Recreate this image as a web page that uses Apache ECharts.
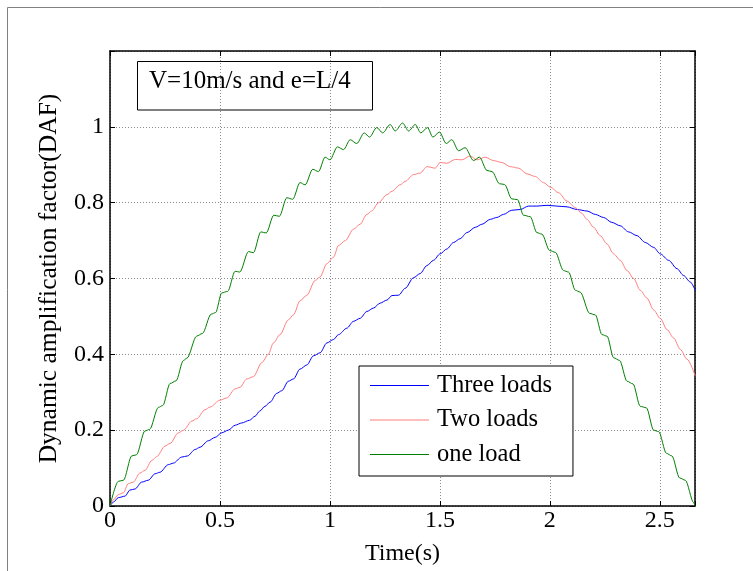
<!DOCTYPE html>
<html>
<head>
<meta charset="utf-8">
<script src="https://cdn.jsdelivr.net/npm/echarts@6/dist/echarts.min.js"></script>
<style>
html,body{margin:0;padding:0;background:#fff;}
#chart{width:753px;height:571px;}
</style>
</head>
<body>
<div id="chart"></div>
<script>
// ---- data ----
const xTicks = [0, 0.5, 1, 1.5, 2, 2.5];
const yTicks = [0, 0.2, 0.4, 0.6, 0.8, 1];
const seriesNames = ['Three loads', 'Two loads', 'one load'];

const threeT = [0, 0.015, 0.038, 0.068, 0.091, 0.114, 0.144, 0.174, 0.205, 0.227, 0.265, 0.288, 0.326, 0.352, 0.387, 0.409, 0.447, 0.478, 0.508, 0.538, 0.569, 0.599, 0.634, 0.66, 0.68, 0.705, 0.728, 0.758, 0.781, 0.811, 0.834, 0.864, 0.895, 0.925, 0.955, 0.986, 1.016, 1.039, 1.077, 1.107, 1.137, 1.168, 1.198, 1.228, 1.259, 1.282, 1.312, 1.342, 1.38, 1.41, 1.441, 1.471, 1.501, 1.532, 1.562, 1.592, 1.623, 1.661, 1.691, 1.729, 1.759, 1.789, 1.827, 1.865, 1.903, 1.941, 1.987, 2.032, 2.078, 2.123, 2.169, 2.207, 2.244, 2.282, 2.32, 2.358, 2.396, 2.434, 2.472, 2.502, 2.54, 2.578, 2.608, 2.638, 2.661];
const threeV = [0, 0.01, 0.022, 0.026, 0.042, 0.045, 0.063, 0.068, 0.085, 0.089, 0.109, 0.113, 0.129, 0.132, 0.149, 0.155, 0.172, 0.181, 0.193, 0.2, 0.213, 0.219, 0.226, 0.237, 0.25, 0.263, 0.274, 0.297, 0.304, 0.329, 0.335, 0.361, 0.372, 0.396, 0.404, 0.43, 0.439, 0.452, 0.469, 0.487, 0.495, 0.513, 0.522, 0.535, 0.543, 0.555, 0.556, 0.574, 0.602, 0.613, 0.634, 0.648, 0.665, 0.678, 0.695, 0.705, 0.721, 0.735, 0.743, 0.756, 0.761, 0.769, 0.78, 0.782, 0.791, 0.791, 0.793, 0.791, 0.789, 0.782, 0.778, 0.769, 0.761, 0.748, 0.739, 0.723, 0.713, 0.695, 0.682, 0.665, 0.648, 0.626, 0.608, 0.591, 0.569];

const twoT = [0, 0.015, 0.038, 0.061, 0.083, 0.106, 0.136, 0.159, 0.19, 0.212, 0.25, 0.273, 0.311, 0.334, 0.372, 0.394, 0.432, 0.455, 0.5, 0.531, 0.569, 0.591, 0.622, 0.652, 0.69, 0.72, 0.743, 0.773, 0.811, 0.834, 0.864, 0.895, 0.933, 0.955, 0.986, 1.016, 1.039, 1.07, 1.107, 1.137, 1.168, 1.19, 1.221, 1.259, 1.282, 1.319, 1.342, 1.38, 1.41, 1.441, 1.479, 1.501, 1.532, 1.57, 1.6, 1.638, 1.668, 1.706, 1.744, 1.782, 1.82, 1.858, 1.896, 1.934, 1.971, 2.002, 2.04, 2.078, 2.116, 2.145, 2.169, 2.199, 2.229, 2.26, 2.29, 2.32, 2.351, 2.381, 2.411, 2.442, 2.472, 2.502, 2.533, 2.563, 2.593, 2.624, 2.661];
const twoV = [0, 0.016, 0.03, 0.035, 0.059, 0.063, 0.087, 0.094, 0.12, 0.13, 0.158, 0.165, 0.193, 0.2, 0.224, 0.23, 0.254, 0.261, 0.279, 0.285, 0.309, 0.313, 0.335, 0.341, 0.378, 0.4, 0.43, 0.452, 0.491, 0.504, 0.541, 0.556, 0.595, 0.604, 0.639, 0.656, 0.687, 0.7, 0.73, 0.743, 0.769, 0.778, 0.8, 0.821, 0.83, 0.847, 0.856, 0.874, 0.878, 0.895, 0.891, 0.906, 0.904, 0.914, 0.913, 0.923, 0.913, 0.92, 0.911, 0.906, 0.895, 0.891, 0.876, 0.869, 0.853, 0.841, 0.826, 0.804, 0.787, 0.772, 0.756, 0.735, 0.713, 0.691, 0.665, 0.648, 0.621, 0.6, 0.569, 0.548, 0.517, 0.495, 0.465, 0.443, 0.413, 0.387, 0.343];

const oneT = [0, 0.038, 0.061, 0.099, 0.12, 0.159, 0.18, 0.22, 0.24, 0.273, 0.3, 0.334, 0.35, 0.394, 0.42, 0.46, 0.48, 0.508, 0.535, 0.569, 0.59, 0.63, 0.652, 0.686, 0.71, 0.745, 0.77, 0.804, 0.831, 0.864, 0.887, 0.922, 0.948, 0.978, 1.0, 1.034, 1.062, 1.092, 1.122, 1.156, 1.18, 1.213, 1.24, 1.274, 1.297, 1.33, 1.358, 1.388, 1.413, 1.444, 1.468, 1.498, 1.529, 1.554, 1.585, 1.615, 1.653, 1.68, 1.714, 1.737, 1.771, 1.794, 1.827, 1.853, 1.88, 1.911, 1.941, 1.964, 1.999, 2.025, 2.062, 2.085, 2.116, 2.138, 2.181, 2.207, 2.237, 2.26, 2.29, 2.317, 2.351, 2.378, 2.411, 2.439, 2.472, 2.495, 2.53, 2.555, 2.59, 2.616, 2.654, 2.66];
const oneV = [0, 0.065, 0.068, 0.132, 0.135, 0.198, 0.202, 0.26, 0.265, 0.323, 0.33, 0.384, 0.39, 0.448, 0.455, 0.506, 0.51, 0.562, 0.566, 0.619, 0.617, 0.671, 0.668, 0.723, 0.72, 0.767, 0.764, 0.813, 0.809, 0.853, 0.847, 0.888, 0.882, 0.92, 0.913, 0.947, 0.94, 0.966, 0.956, 0.984, 0.973, 0.998, 0.984, 1.006, 0.989, 1.01, 0.989, 1.006, 0.984, 0.998, 0.973, 0.986, 0.956, 0.966, 0.937, 0.945, 0.911, 0.92, 0.885, 0.882, 0.85, 0.848, 0.81, 0.808, 0.767, 0.763, 0.721, 0.717, 0.674, 0.669, 0.621, 0.617, 0.569, 0.564, 0.508, 0.504, 0.452, 0.448, 0.391, 0.384, 0.329, 0.322, 0.263, 0.259, 0.2, 0.196, 0.139, 0.132, 0.074, 0.068, 0.009, 0];

const xMax = 2.66;
const yMax = 1.2;

// ---- build ----
function pairs(t, v) { return t.map((x, i) => [x, v[i]]); }
const FONT = '"Liberation Serif", "Times New Roman", serif';
const chart = echarts.init(document.getElementById('chart'), null, {renderer: 'canvas'});

const gridLine = {show: true, lineStyle: {color: '#8c8c8c', type: [1, 2], width: 1}};
const axisLine = {show: true, onZero: false, lineStyle: {color: '#000', width: 1.5}};
const tickIn = {show: true, inside: true, length: 5, lineStyle: {color: '#000', width: 1}};
const onTick = (list) => (val) => list.some(t => Math.abs(t - val) < 1e-6) ? String(val) : '';

const option = {
  animation: false,
  backgroundColor: '#fff',
  grid: {left: 110, right: 58, top: 51, bottom: 61, containLabel: false},
  xAxis: [{
    type: 'value', min: 0, max: xMax, interval: 0.5, position: 'bottom',
    axisLine: axisLine, axisTick: tickIn, splitLine: gridLine,
    axisLabel: {fontFamily: FONT, fontSize: 24, color: '#000', margin: 3, formatter: onTick(xTicks)},
    name: 'Time(s)', nameLocation: 'middle', nameGap: 36,
    nameTextStyle: {fontFamily: FONT, fontSize: 24, color: '#000'}
  }, {
    type: 'value', min: 0, max: xMax, interval: 0.5, position: 'top',
    axisLine: axisLine, axisTick: tickIn, splitLine: {show: false}, axisLabel: {show: false}
  }],
  yAxis: [{
    type: 'value', min: 0, max: yMax, interval: 0.2, position: 'left',
    axisLine: axisLine, axisTick: tickIn, splitLine: gridLine,
    axisLabel: {fontFamily: FONT, fontSize: 24, color: '#000', margin: 6, formatter: onTick(yTicks)},
    name: 'Dynamic amplification factor(DAF)', nameLocation: 'middle', nameGap: 48,
    nameTextStyle: {fontFamily: FONT, fontSize: 25.5, color: '#000'}
  }, {
    type: 'value', min: 0, max: yMax, interval: 0.2, position: 'right',
    axisLine: axisLine, axisTick: tickIn, splitLine: {show: false}, axisLabel: {show: false}
  }],
  legend: {
    orient: 'vertical', left: 359, top: 366,
    data: seriesNames,
    icon: 'rect',
    padding: [7, 21, 9, 11],
    itemWidth: 59, itemHeight: 1, itemGap: 9.5,
    backgroundColor: '#fff', borderColor: '#000', borderWidth: 1,
    textStyle: {fontFamily: FONT, fontSize: 24.5, color: '#000', lineHeight: 25, padding: [0, 0, 0, 3]}
  },
  graphic: [
    {type: 'rect', silent: true, z: 100, shape: {x: 7.5, y: 7.5, width: 900, height: 900},
     style: {fill: 'none', stroke: '#808080', lineWidth: 1}},
    {type: 'rect', silent: true, z: 100, shape: {x: 137.5, y: 61.5, width: 235, height: 48.5},
     style: {fill: 'none', stroke: '#000', lineWidth: 1}},
    {type: 'text', silent: true, z: 100, x: 149, y: 81,
     style: {text: 'V=10m/s and e=L/4', font: '25px ' + FONT, fill: '#000', verticalAlign: 'middle', align: 'left'}}
  ],
  series: [
    {name: seriesNames[0], type: 'line', data: pairs(threeT, threeV), symbol: 'none', smooth: 0.3, smoothMonotone: 'x',
     lineStyle: {color: '#0000ff', width: 1}, itemStyle: {color: '#0000ff'}},
    {name: seriesNames[1], type: 'line', data: pairs(twoT, twoV), symbol: 'none', smooth: 0.3, smoothMonotone: 'x',
     lineStyle: {color: '#ff7f7f', width: 1}, itemStyle: {color: '#ff7f7f'}},
    {name: seriesNames[2], type: 'line', data: pairs(oneT, oneV), symbol: 'none', smooth: 0.3, smoothMonotone: 'x',
     lineStyle: {color: '#008000', width: 1}, itemStyle: {color: '#008000'}}
  ]
};
chart.setOption(option);
</script>
</body>
</html>
